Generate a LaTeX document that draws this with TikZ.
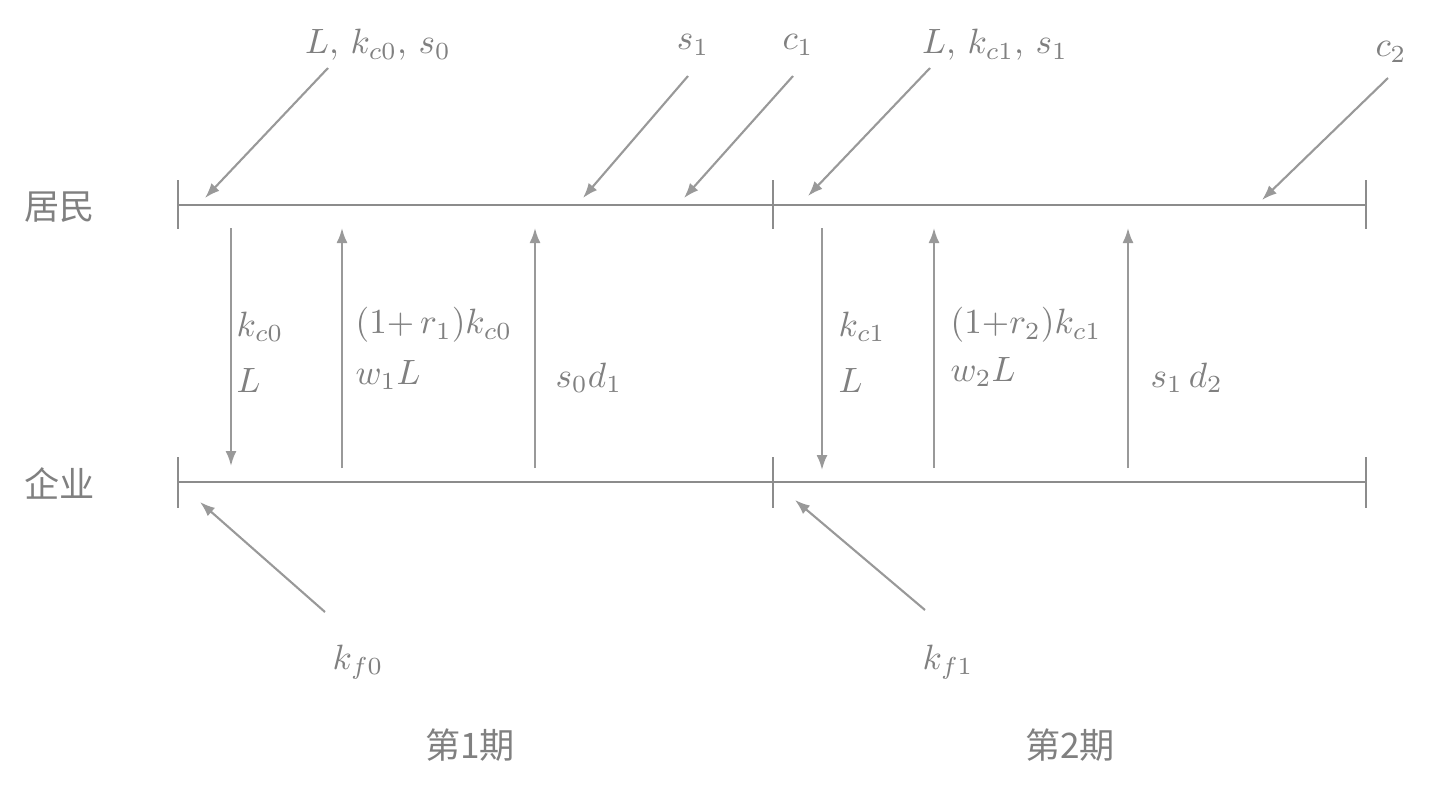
\documentclass[tikz,border=0pt]{standalone}
\usepackage{fontspec}
\newfontfamily\cjk{Noto Sans CJK SC}
\usepackage{tikz}
\usetikzlibrary{arrows.meta}

\tikzset{
  lbl/.style={text=black!50, inner sep=0pt},
  flow/.style={-{Latex[length=1.5mm,width=1.1mm]}, line width=0.6pt, black!40},
  axis/.style={line width=0.7pt, black!45},
}

\begin{document}
\begin{tikzpicture}[x=0.01cm,y=-0.01cm]
\useasboundingbox (0,0) rectangle (1442,784);
% agents and time lines
\node[lbl] (hh) at (60,207) {\cjk 居民};
\node[lbl] (firm) at (60,483) {\cjk 企业};
\coordinate (h0) at (178,205); \coordinate (h2) at (1366,205);
\coordinate (f0) at (178,482); \coordinate (f2) at (1366,482);
\draw[axis] (h0) -- (h2);
\draw[axis] (f0) -- (f2);
\foreach \x in {178,773,1366}{
  \draw[axis] (\x,180) -- (\x,229);
  \draw[axis] (\x,457) -- (\x,508);
}
% inflows to households
\node[lbl] (in0) at (378,45) {$L$, $k_{c0}$, $s_0$};
\node[lbl] (sv1) at (693,45) {$s_1$};
\node[lbl] (cs1) at (798,45) {$c_1$};
\node[lbl] (in1) at (995,45) {$L$, $k_{c1}$, $s_1$};
\node[lbl] (cs2) at (1391,52) {$c_2$};
\coordinate (in0a) at (328,68);  \coordinate (in0b) at (205,198);
\coordinate (sv1a) at (688,76);  \coordinate (sv1b) at (583,198);
\coordinate (cs1a) at (793,76);  \coordinate (cs1b) at (684,198);
\coordinate (in1a) at (930,68);  \coordinate (in1b) at (808,196);
\coordinate (cs2a) at (1388,78); \coordinate (cs2b) at (1262,200);
\draw[flow] (in0a) -- (in0b);
\draw[flow] (sv1a) -- (sv1b);
\draw[flow] (cs1a) -- (cs1b);
\draw[flow] (in1a) -- (in1b);
\draw[flow] (cs2a) -- (cs2b);
% flows between households and firms, period 1
\coordinate (k0t) at (231,228); \coordinate (k0b) at (231,466);
\coordinate (r1b) at (342,468); \coordinate (r1t) at (342,228);
\coordinate (d1b) at (535,468); \coordinate (d1t) at (535,228);
\draw[flow] (k0t) -- (k0b);
\draw[flow] (r1b) -- (r1t);
\draw[flow] (d1b) -- (d1t);
\node[lbl, anchor=west] (k0lab) at (236,327) {$k_{c0}$};
\node[lbl, anchor=west] (L0lab) at (236,380) {$L$};
\node[lbl, anchor=west] (r1lab) at (355,325) {$(1{+}\,r_1)k_{c0}$};
\node[lbl, anchor=west] (w1lab) at (355,375) {$w_1L$};
\node[lbl, anchor=west] (d1lab) at (555,378) {$s_0d_1$};
% flows between households and firms, period 2
\coordinate (k1t) at (822,228); \coordinate (k1b) at (822,470);
\coordinate (r2b) at (934,468); \coordinate (r2t) at (934,228);
\coordinate (d2b) at (1128,468); \coordinate (d2t) at (1128,228);
\draw[flow] (k1t) -- (k1b);
\draw[flow] (r2b) -- (r2t);
\draw[flow] (d2b) -- (d2t);
\node[lbl, anchor=west] (k1lab) at (838,327) {$k_{c1}$};
\node[lbl, anchor=west] (L1lab) at (838,380) {$L$};
\node[lbl, anchor=west] (r2lab) at (950,325) {$(1{+}r_2)k_{c1}$};
\node[lbl, anchor=west] (w2lab) at (950,372) {$w_2L$};
\node[lbl, anchor=west] (d2lab) at (1150,378) {$s_1\,d_2$};
% firm capital
\node[lbl] (kf0) at (358,662) {$k_{f0}$};
\node[lbl] (kf1) at (948,662) {$k_{f1}$};
\coordinate (kf0a) at (325,612); \coordinate (kf0b) at (200,502);
\coordinate (kf1a) at (925,610); \coordinate (kf1b) at (795,500);
\draw[flow] (kf0a) -- (kf0b);
\draw[flow] (kf1a) -- (kf1b);
% periods
\node[lbl] (p1) at (470,745) {\cjk 第1期};
\node[lbl] (p2) at (1070,745) {\cjk 第2期};
\end{tikzpicture}
\end{document}
